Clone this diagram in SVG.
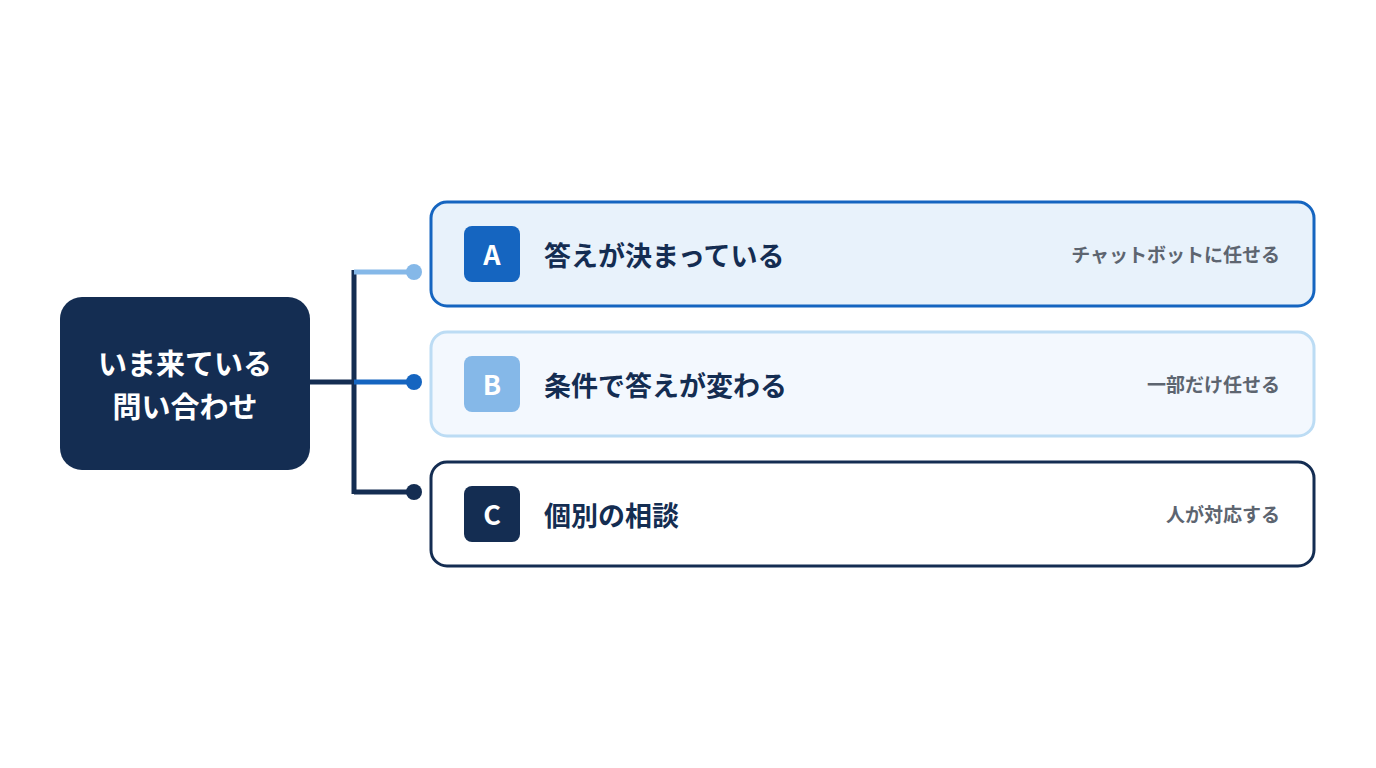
<svg xmlns="http://www.w3.org/2000/svg" width="1376" height="768" viewBox="0 0 1376 768">
<style>
text{font-family:"Noto Sans CJK JP","Noto Sans",sans-serif;font-weight:700}
.t{font-size:27px;fill:#142d52}
.s{font-size:19px;fill:#5d6570;text-anchor:end}
.b{font-size:27px;fill:#fff;text-anchor:middle}
</style>
<rect width="1376" height="768" fill="#fff"/>
<g id="root"><rect x="60" y="297" width="250" height="173" rx="22" fill="#142d52"/>
<text x="185" y="375" font-size="29" fill="#fff" text-anchor="middle">いま来ている</text>
<text x="185" y="418" font-size="29" fill="#fff" text-anchor="middle">問い合わせ</text></g>
<g id="connectors" stroke-width="5" fill="none">
<line x1="310" y1="382" x2="356" y2="382" stroke="#142d52"/>
<line x1="354" y1="270" x2="354" y2="494" stroke="#142d52"/>
<line x1="354" y1="272" x2="414" y2="272" stroke="#85b8e8"/>
<line x1="354" y1="382" x2="414" y2="382" stroke="#1565c0"/>
<line x1="354" y1="492" x2="414" y2="492" stroke="#142d52"/>
<circle cx="414" cy="272" r="8" fill="#85b8e8" stroke="none"/>
<circle cx="414" cy="382" r="8" fill="#1565c0" stroke="none"/>
<circle cx="414" cy="492" r="8" fill="#142d52" stroke="none"/>
</g>
<g id="A"><rect x="431" y="202" width="883" height="104" rx="16" fill="#e8f2fb" stroke="#1565c0" stroke-width="3"/>
<rect x="464" y="226" width="56" height="56" rx="8" fill="#1565c0"/><text class="b" x="492" y="265">A</text>
<text class="t" x="544" y="266">答えが決まっている</text><text class="s" x="1280" y="262">チャットボットに任せる</text></g>
<g id="B"><rect x="431" y="332" width="883" height="104" rx="16" fill="#f3f8fe" stroke="#bcdcf4" stroke-width="3"/>
<rect x="464" y="356" width="56" height="56" rx="8" fill="#85b8e8"/><text class="b" x="492" y="395">B</text>
<text class="t" x="544" y="396">条件で答えが変わる</text><text class="s" x="1280" y="392">一部だけ任せる</text></g>
<g id="C"><rect x="431" y="462" width="883" height="104" rx="16" fill="#fff" stroke="#142d52" stroke-width="3"/>
<rect x="464" y="486" width="56" height="56" rx="8" fill="#142d52"/><text class="b" x="492" y="525">C</text>
<text class="t" x="544" y="526">個別の相談</text><text class="s" x="1280" y="522">人が対応する</text></g>
</svg>
